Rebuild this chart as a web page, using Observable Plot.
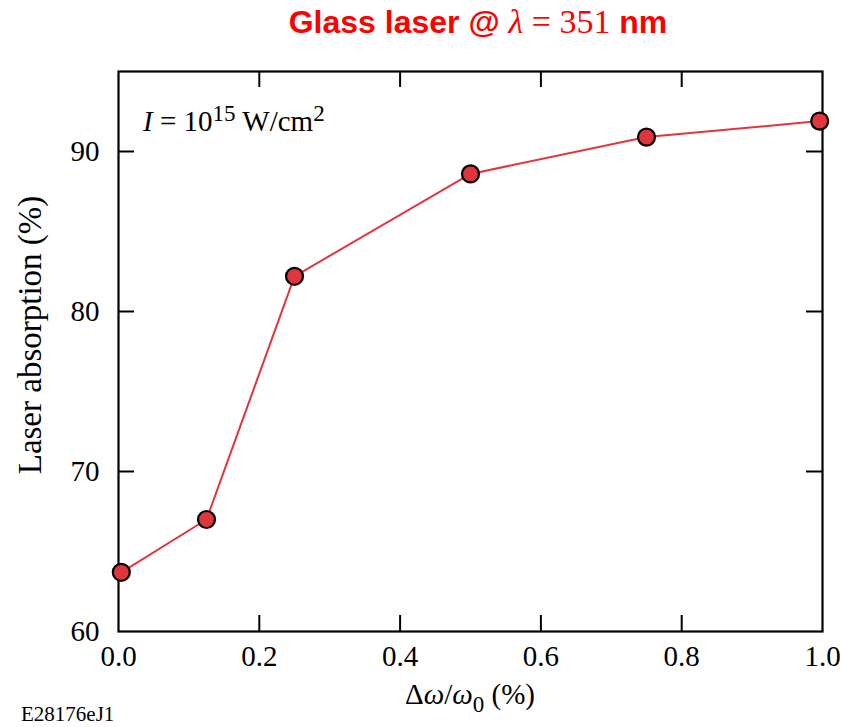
<!DOCTYPE html>
<html><head><meta charset="utf-8">
<script src="https://cdn.jsdelivr.net/npm/d3@7"></script>
<script src="https://cdn.jsdelivr.net/npm/@observablehq/plot@0.6"></script>
<style>html,body{margin:0;padding:0;background:#fff}svg{display:block}</style>
</head><body><div id="chart"></div>
<script>
// Data
const spread = [0.004, 0.125, 0.25, 0.5, 0.75, 0.996];        // Δω/ω0 (%)
const absorption = [63.7, 67.0, 82.2, 88.6, 90.9, 91.9];     // Laser absorption (%)
const xTicks = [0, 0.2, 0.4, 0.6, 0.8, 1.0];
const yTicks = [60, 70, 80, 90];
const titleParts = ["Glass laser @ ", "λ", " = 351", " nm"];

const data = spread.map((x, i) => ({x, y: absorption[i]}));

const W = 841, H = 727, mt = 71, mb = 96, ml = 118, mr = 19;
const innerH = H - mt - mb, innerW = W - ml - mr, tickLen = 16;
const serif = "'Liberation Serif', 'Times New Roman', serif";
const sans = "'Liberation Sans', Arial, sans-serif";

const svg = Plot.plot({
  width: W, height: H,
  marginTop: mt, marginBottom: mb, marginLeft: ml, marginRight: mr,
  x: {domain: [0, 1]},
  y: {domain: [60, 95]},
  style: {fontFamily: serif, fontSize: "29px", color: "#000", background: "#fff", overflow: "visible"},
  marks: [
    Plot.axisX(xTicks, {tickSize: 0, tickPadding: 14, tickFormat: d3.format(".1f"), fontSize: 29, label: null}),
    Plot.axisY(yTicks, {tickSize: 0, tickPadding: 19, fontSize: 29, label: null}),
    // inward ticks on all four sides
    Plot.tickX(xTicks.slice(1, -1), {x: d => d, insetTop: innerH - tickLen, stroke: "#000", strokeWidth: 2}),
    Plot.tickX(xTicks.slice(1, -1), {x: d => d, insetBottom: innerH - tickLen, stroke: "#000", strokeWidth: 2}),
    Plot.tickY(yTicks.slice(1), {y: d => d, insetRight: innerW - tickLen, stroke: "#000", strokeWidth: 2}),
    Plot.tickY(yTicks.slice(1), {y: d => d, insetLeft: innerW - tickLen, stroke: "#000", strokeWidth: 2}),
    Plot.frame({stroke: "#000", strokeWidth: 2.2}),
    Plot.line(data, {x: "x", y: "y", stroke: "#e2363f", strokeWidth: 2}),
    Plot.dot(data, {x: "x", y: "y", r: 8.5, fill: "#e0343f", stroke: "#000", strokeWidth: 2.2})
  ]
});

const s = d3.select(svg);

// Title
const t = s.append("text").attr("x", 478).attr("y", 33).attr("text-anchor", "middle")
  .attr("fill", "#ff0000").attr("font-size", 32).attr("font-family", sans).attr("font-weight", "bold");
t.append("tspan").text(titleParts[0]);
t.append("tspan").attr("font-family", serif).attr("font-style", "italic").attr("font-weight", "normal")
  .attr("font-size", 34).text(titleParts[1]);
t.append("tspan").attr("font-family", serif).attr("font-weight", "normal").attr("font-size", 34).text(titleParts[2]);
t.append("tspan").text(titleParts[3]);

// Annotation I = 10^15 W/cm^2
const a = s.append("text").attr("x", 143).attr("y", 131).attr("text-anchor", "start")
  .attr("font-size", 29).attr("font-family", serif).attr("fill", "#000");
a.append("tspan").attr("font-style", "italic").text("I");
a.append("tspan").text(" = 10");
a.append("tspan").attr("font-size", 23).attr("dy", -10).text("15");
a.append("tspan").attr("dy", 10).text(" W/cm");
a.append("tspan").attr("font-size", 23).attr("dy", -10).text("2");

// X label
const xl = s.append("text").attr("x", 470).attr("y", 704).attr("text-anchor", "middle")
  .attr("font-size", 29).attr("font-family", serif).attr("fill", "#000");
xl.append("tspan").text("Δ");
xl.append("tspan").attr("font-style", "italic").text("ω");
xl.append("tspan").text("/");
xl.append("tspan").attr("font-style", "italic").text("ω");
xl.append("tspan").attr("font-size", 23).attr("dy", 8).text("0");
xl.append("tspan").attr("dy", -8).text(" (%)");

// Y label
s.append("text").attr("transform", "translate(41,335) rotate(-90)").attr("text-anchor", "middle")
  .attr("font-size", 33).attr("font-family", serif).attr("fill", "#000").text("Laser absorption (%)");

// Figure code
s.append("text").attr("x", 21).attr("y", 721).attr("text-anchor", "start").attr("font-size", 21)
  .attr("font-family", serif).attr("fill", "#000").text("E28176eJ1");

document.getElementById("chart").appendChild(svg);
</script>
</body></html>
